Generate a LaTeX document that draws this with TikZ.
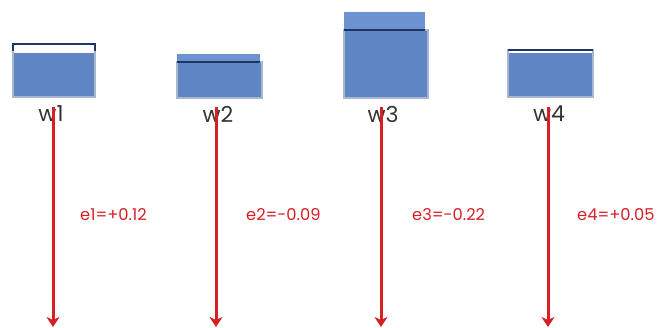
\documentclass[tikz,border=0pt]{standalone}
\usepackage{fontspec}
\setmainfont{Poppins}
\usetikzlibrary{arrows.meta}
\definecolor{water}{HTML}{5F85C4}
\definecolor{waterup}{HTML}{6D92D0}
\definecolor{rim}{HTML}{1C3566}
\definecolor{frame}{HTML}{A9B6CF}
\definecolor{errred}{HTML}{D91F26}
\definecolor{lbl}{HTML}{333333}
\tikzset{
  box/.style={fill=water, draw=frame, line width=1.2pt},
  over/.style={fill=waterup, draw=none},
  rimline/.style={draw=rim, line width=1.8pt},
  wlabel/.style={text=lbl, font=\fontsize{22}{22}\selectfont, inner sep=0pt},
  elabel/.style={text=errred, font=\fontsize{16.3}{17}\selectfont, inner sep=0pt, anchor=west},
  errarrow/.style={draw=errred, line width=3pt, -{Stealth[length=10pt,width=13pt,inset=3pt]}}
}
\begin{document}
\begin{tikzpicture}[x=1pt,y=-1pt]
\useasboundingbox (0,0) rectangle (659,328);
% w1: partly filled container
\draw[frame, line width=1.2pt, fill=white] (13,44) rectangle (95,97);
\fill[water] (13.6,53) rectangle (94.4,96.4);
\draw[rimline] (13,51) -- (13,44) -- (95,44) -- (95,51);
% w2: overflow
\fill[over] (177,54) rectangle (260,62);
\draw[box] (177,62) rectangle (262,98);
\draw[rimline] (177,62) -- (260,62);
% w3: large overflow
\fill[over] (344,12) rectangle (425,30);
\draw[box] (344,30) rectangle (428,98);
\draw[rimline] (344,30) -- (425,30);
% w4: nearly full
\draw[frame, line width=1.2pt, fill=white] (508,50) rectangle (593,97);
\fill[water] (508.6,53.5) rectangle (592.4,96.4);
\draw[rimline] (508,50) -- (593,50);
% labels
\node[wlabel] (w1) at (51,114) {w1};
\node[wlabel] (w2) at (218,114) {w2};
\node[wlabel] (w3) at (383,114) {w3};
\node[wlabel] (w4) at (549,114) {w4};
% arrows
\coordinate (t1) at (53,107); \coordinate (b1) at (53,327);
\coordinate (t2) at (216,107); \coordinate (b2) at (216,327);
\coordinate (t3) at (381,107); \coordinate (b3) at (381,327);
\coordinate (t4) at (548,107); \coordinate (b4) at (548,327);
\draw[errarrow] (t1) -- (b1);
\draw[errarrow] (t2) -- (b2);
\draw[errarrow] (t3) -- (b3);
\draw[errarrow] (t4) -- (b4);
% error labels
\node[elabel] (e1) at (80,215) {e1=+0.12};
\node[elabel] (e2) at (246,215) {e2=-0.09};
\node[elabel] (e3) at (412,215) {e3=-0.22};
\node[elabel] (e4) at (577,215) {e4=+0.05};
\end{tikzpicture}
\end{document}
